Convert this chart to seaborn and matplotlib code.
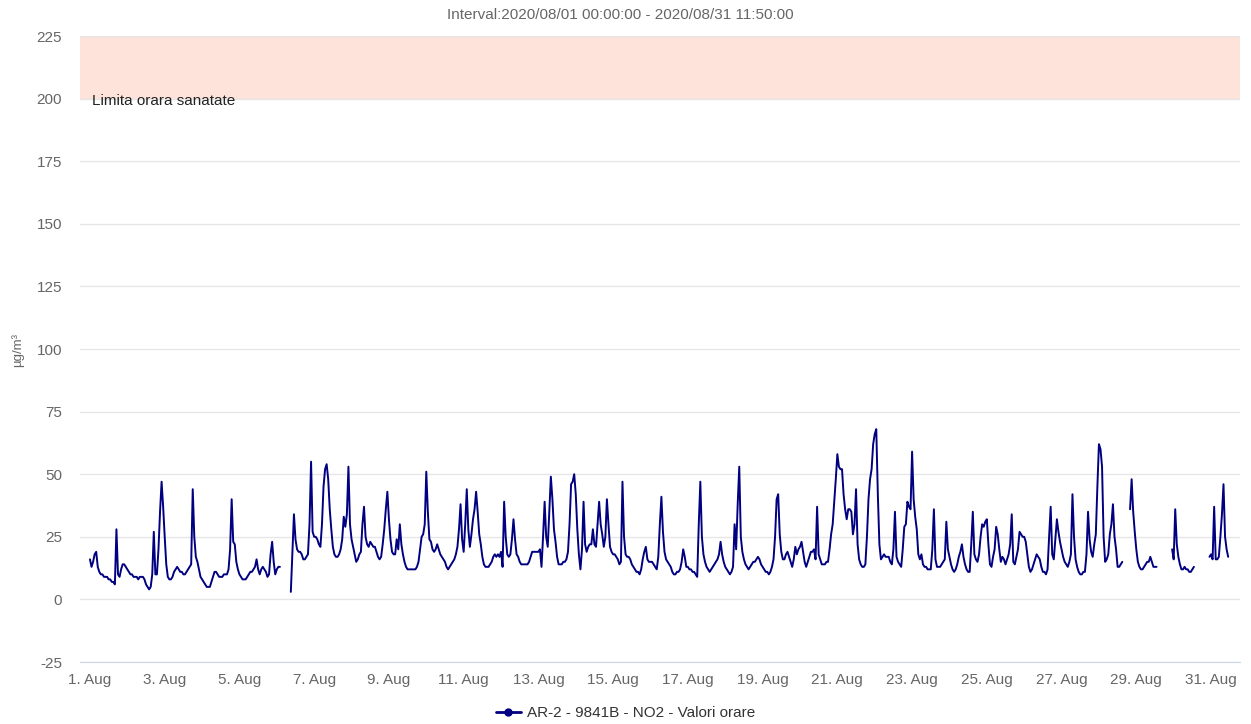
# %% Hourly NO2, AR-2 station, August 2020
import numpy as np
import pandas as pd
import matplotlib
matplotlib.use('Agg')
import matplotlib.pyplot as plt
from matplotlib.lines import Line2D
import matplotlib.transforms as mtransforms
import seaborn as sns

nan = float('nan')

# %%
# Hourly values (ug/m3), one list per day
aug01 = [16, 13, 15, 18, 19, 13, 11, 10, 10, 9, 9, 9, 8, 8, 7, 7, 6, 28, 10, 9, 12, 14, 14, 13]
aug02 = [12, 11, 10, 10, 9, 9, 9, 8, 9, 9, 9, 8, 6, 5, 4, 5, 10, 27, 10, 10, 20, 35, 47, 37]
aug03 = [25, 14, 9, 8, 8, 9, 11, 12, 13, 12, 11, 11, 10, 10, 11, 12, 13, 14, 44, 25, 17, 15, 12, 9]
aug04 = [8, 7, 6, 5, 5, 5, 7, 9, 11, 11, 10, 9, 9, 9, 10, 10, 10, 12, 20, 40, 23, 22, 15, 12]
aug05 = [10, 9, 8, 8, 8, 9, 10, 11, 11, 12, 13, 16, 12, 10, 12, 13, 12, 11, 9, 10, 18, 23, 15, 10]
aug06 = [12, 13, 13, nan, nan, nan, nan, nan, nan, 3, 18, 34, 24, 20, 19, 19, 18, 16, 16, 17, 18, 30, 55, 27]
aug07 = [25, 25, 24, 22, 21, 30, 45, 52, 54, 48, 36, 28, 21, 18, 17, 17, 18, 20, 24, 33, 29, 34, 53, 30]
aug08 = [24, 21, 18, 15, 16, 18, 19, 30, 37, 25, 22, 21, 23, 22, 21, 21, 19, 17, 16, 17, 22, 28, 36, 43]
aug09 = [32, 24, 19, 18, 18, 24, 20, 30, 22, 18, 15, 13, 12, 12, 12, 12, 12, 12, 13, 15, 20, 25, 26, 30]
aug10 = [51, 35, 24, 23, 20, 19, 20, 22, 20, 18, 17, 16, 15, 13, 12, 13, 14, 15, 16, 18, 21, 28, 38, 24]
aug11 = [19, 30, 44, 28, 21, 26, 32, 36, 43, 35, 26, 22, 17, 14, 13, 13, 13, 14, 15, 17, 18, 17, 18, 17]
aug12 = [19, 13, 39, 25, 18, 17, 18, 24, 32, 24, 18, 17, 15, 14, 14, 14, 14, 14, 15, 17, 19, 19, 19, 19]
aug13 = [19, 20, 13, 25, 39, 25, 21, 35, 49, 40, 28, 23, 17, 14, 14, 14, 15, 15, 16, 19, 30, 46, 47, 50]
aug14 = [42, 28, 18, 12, 20, 39, 22, 19, 21, 22, 22, 28, 22, 21, 30, 39, 30, 26, 21, 25, 40, 30, 21, 19]
aug15 = [18, 18, 17, 16, 14, 15, 47, 25, 18, 17, 17, 16, 14, 13, 12, 11, 11, 10, 12, 16, 19, 21, 16, 15]
aug16 = [15, 15, 14, 13, 12, 17, 30, 41, 27, 19, 16, 15, 14, 13, 11, 10, 10, 11, 11, 12, 15, 20, 17, 13]
aug17 = [13, 12, 12, 11, 11, 10, 9, 30, 47, 25, 18, 15, 13, 12, 11, 12, 13, 14, 15, 16, 18, 23, 18, 15]
aug18 = [13, 12, 11, 10, 11, 13, 30, 20, 38, 53, 25, 19, 16, 14, 13, 12, 13, 14, 15, 15, 16, 17, 16, 14]
aug19 = [13, 12, 11, 11, 10, 11, 13, 16, 25, 40, 42, 26, 19, 16, 16, 18, 19, 17, 15, 13, 16, 21, 18, 20]
aug20 = [21, 23, 19, 15, 13, 15, 17, 19, 19, 20, 16, 37, 18, 16, 14, 14, 14, 15, 15, 20, 26, 30, 39, 48]
aug21 = [58, 53, 52, 52, 42, 36, 32, 36, 36, 35, 26, 30, 44, 22, 16, 14, 13, 13, 14, 25, 40, 48, 52, 62]
aug22 = [66, 68, 42, 22, 16, 17, 18, 17, 17, 17, 15, 14, 20, 35, 17, 15, 14, 13, 20, 29, 30, 39, 37, 36]
aug23 = [59, 40, 33, 28, 18, 16, 18, 14, 13, 13, 12, 12, 12, 20, 36, 16, 13, 13, 13, 14, 15, 16, 31, 20]
aug24 = [17, 14, 12, 11, 12, 14, 17, 19, 22, 17, 14, 12, 11, 11, 22, 35, 18, 16, 15, 18, 25, 30, 29, 31]
aug25 = [32, 22, 14, 13, 17, 20, 29, 26, 20, 15, 17, 16, 14, 16, 18, 22, 34, 15, 14, 17, 20, 27, 26, 25]
aug26 = [25, 23, 18, 13, 11, 12, 14, 16, 18, 17, 16, 13, 11, 11, 10, 12, 25, 37, 18, 16, 24, 32, 27, 23]
aug27 = [20, 17, 15, 14, 13, 15, 18, 42, 25, 16, 13, 11, 10, 10, 11, 11, 18, 35, 24, 19, 17, 22, 26, 45]
aug28 = [62, 60, 53, 25, 15, 16, 18, 26, 30, 38, 25, 20, 13, 13, 14, 15, nan, nan, nan, nan, 36, 48, 35, 27]
aug29 = [20, 15, 13, 12, 12, 13, 14, 15, 15, 17, 15, 13, 13, 13, nan, nan, nan, nan, nan, nan, nan, nan, nan, 20]
aug30 = [16, 36, 22, 17, 14, 12, 12, 13, 12, 12, 11, 11, 12, 13, nan, nan, nan, nan, nan, nan, nan, nan, nan, 17]
aug31 = [18, 16, 37, 16, 16, 17, 25, 34, 46, 25, 20, 17]

series_name = 'AR-2 - 9841B - NO2 - Valori orare'
title = 'Interval:2020/08/01 00:00:00 - 2020/08/31 11:50:00'
band_label = 'Limita orara sanatate'
y_ticks = [-25, 0, 25, 50, 75, 100, 125, 150, 175, 200, 225]

# %%
no2 = (aug01 + aug02 + aug03 + aug04 + aug05 + aug06 + aug07 + aug08 + aug09 + aug10
       + aug11 + aug12 + aug13 + aug14 + aug15 + aug16 + aug17 + aug18 + aug19 + aug20
       + aug21 + aug22 + aug23 + aug24 + aug25 + aug26 + aug27 + aug28 + aug29 + aug30
       + aug31)
df = pd.DataFrame({
    'time': pd.date_range('2020-08-01 00:00', periods=len(no2), freq='h'),
    'no2': no2,
})
# break the line where hours are missing
df['seg'] = df['no2'].isna().cumsum()
df = df.dropna()

# %%
sns.set_style('white')
plt.rcParams['font.family'] = ['Liberation Sans', 'DejaVu Sans']

navy = '#000080'
grey = '#666666'
fs = 11

fig = plt.figure(figsize=(12.51, 7.24), dpi=100)
ax = fig.add_axes([80 / 1251, 1 - 662 / 724, 1160 / 1251, 626 / 724])

ax.axhspan(200, 225, color='#fde3d9', zorder=0, lw=0)
sns.lineplot(data=df, x='time', y='no2', units='seg', estimator=None,
             color=navy, lw=1.4, ax=ax, legend=False)

start = pd.Timestamp('2020-08-01')
ax.set_xlim(start - pd.Timedelta(hours=6.4), start + pd.Timedelta(hours=738.6))
ax.set_ylim(-25, 225)
ax.set_yticks(y_ticks)
ax.set_yticklabels([str(v) for v in y_ticks])

ticks = pd.date_range('2020-08-01', '2020-08-31', freq='2D')
ax.set_xticks(ticks)
ax.set_xticklabels([f'{d.day}. Aug' for d in ticks])

ax.yaxis.grid(True, color='#e6e6e6', lw=1)
ax.xaxis.grid(False)
for side in ['top', 'left', 'right']:
    ax.spines[side].set_visible(False)
ax.spines['bottom'].set_color('#ccd6eb')
ax.tick_params(axis='both', length=0, labelcolor=grey, labelsize=fs)
ax.tick_params(axis='y', pad=13)
ax.tick_params(axis='x', pad=8)
ax.set_xlabel('')
ax.set_ylabel('')

trans = mtransforms.blended_transform_factory(ax.transAxes, ax.transData)
ax.text(0.0105, 199, band_label, transform=trans, ha='left', va='center',
        fontsize=fs, color='#222222')

fig.text(18 / 1251, 1 - 350 / 724, 'µg/m³', rotation=90, ha='center', va='center',
         color=grey, fontsize=9.5)
fig.text(620 / 1251, 1 - 15 / 724, title, ha='center', va='center',
         color=grey, fontsize=fs)

handle = Line2D([0], [0], color=navy, marker='o', markersize=5, lw=2)
leg = fig.legend([handle], [series_name], loc='center', bbox_to_anchor=(0.5, 1 - 713 / 724),
                 frameon=False, fontsize=fs, handlelength=1.6, handletextpad=0.4)
for t in leg.get_texts():
    t.set_color('#333333')

fig.savefig('out.png', dpi=100)
